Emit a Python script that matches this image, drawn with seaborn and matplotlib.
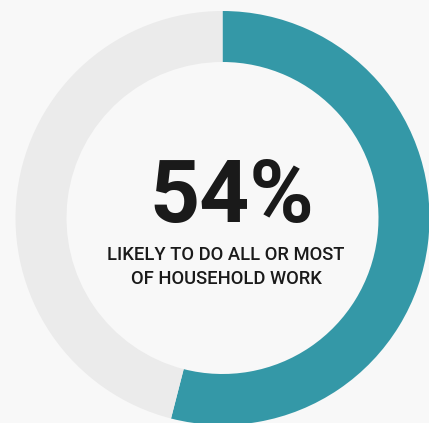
import matplotlib
matplotlib.use("Agg")
import matplotlib.pyplot as plt
import seaborn as sns

# Data
labels = ["Likely to do all or most", "Other"]
values = [54, 46]
big_label = "54%"
sub_lines = ["LIKELY TO DO ALL OR MOST", "OF HOUSEHOLD WORK"]

TEAL = "#3498a7"
GREY = "#ebebeb"
BG = "#f8f8f8"
INK = "#1a1a1a"

sns.set_style("white")
plt.rcParams["font.family"] = ["Roboto", "DejaVu Sans"]

W, H = 429, 423
fig = plt.figure(figsize=(W / 100, H / 100), dpi=100, facecolor=BG)
ax = fig.add_axes([0, 0, 1, 1])
ax.set_facecolor(BG)

cx, cy = 222.5, H - 218
R, r = 207, 156
ax.pie(values, colors=[TEAL, GREY], startangle=90, counterclock=False,
       center=(cx, cy), radius=R, frame=True,
       wedgeprops=dict(width=R - r, linewidth=0))
ax.set_xlim(0, W)
ax.set_ylim(0, H)
ax.set_aspect("equal")
ax.axis("off")

ax.text(232, H - 222, big_label, ha="center", va="baseline",
        fontsize=63, fontweight="bold", color=INK)
ax.text(226, H - 260, sub_lines[0], ha="center", va="baseline",
        fontsize=13.2, fontweight="medium", color=INK)
ax.text(226, H - 283.5, sub_lines[1], ha="center", va="baseline",
        fontsize=13.2, fontweight="medium", color=INK)

fig.savefig("out.png", dpi=100, facecolor=BG)
